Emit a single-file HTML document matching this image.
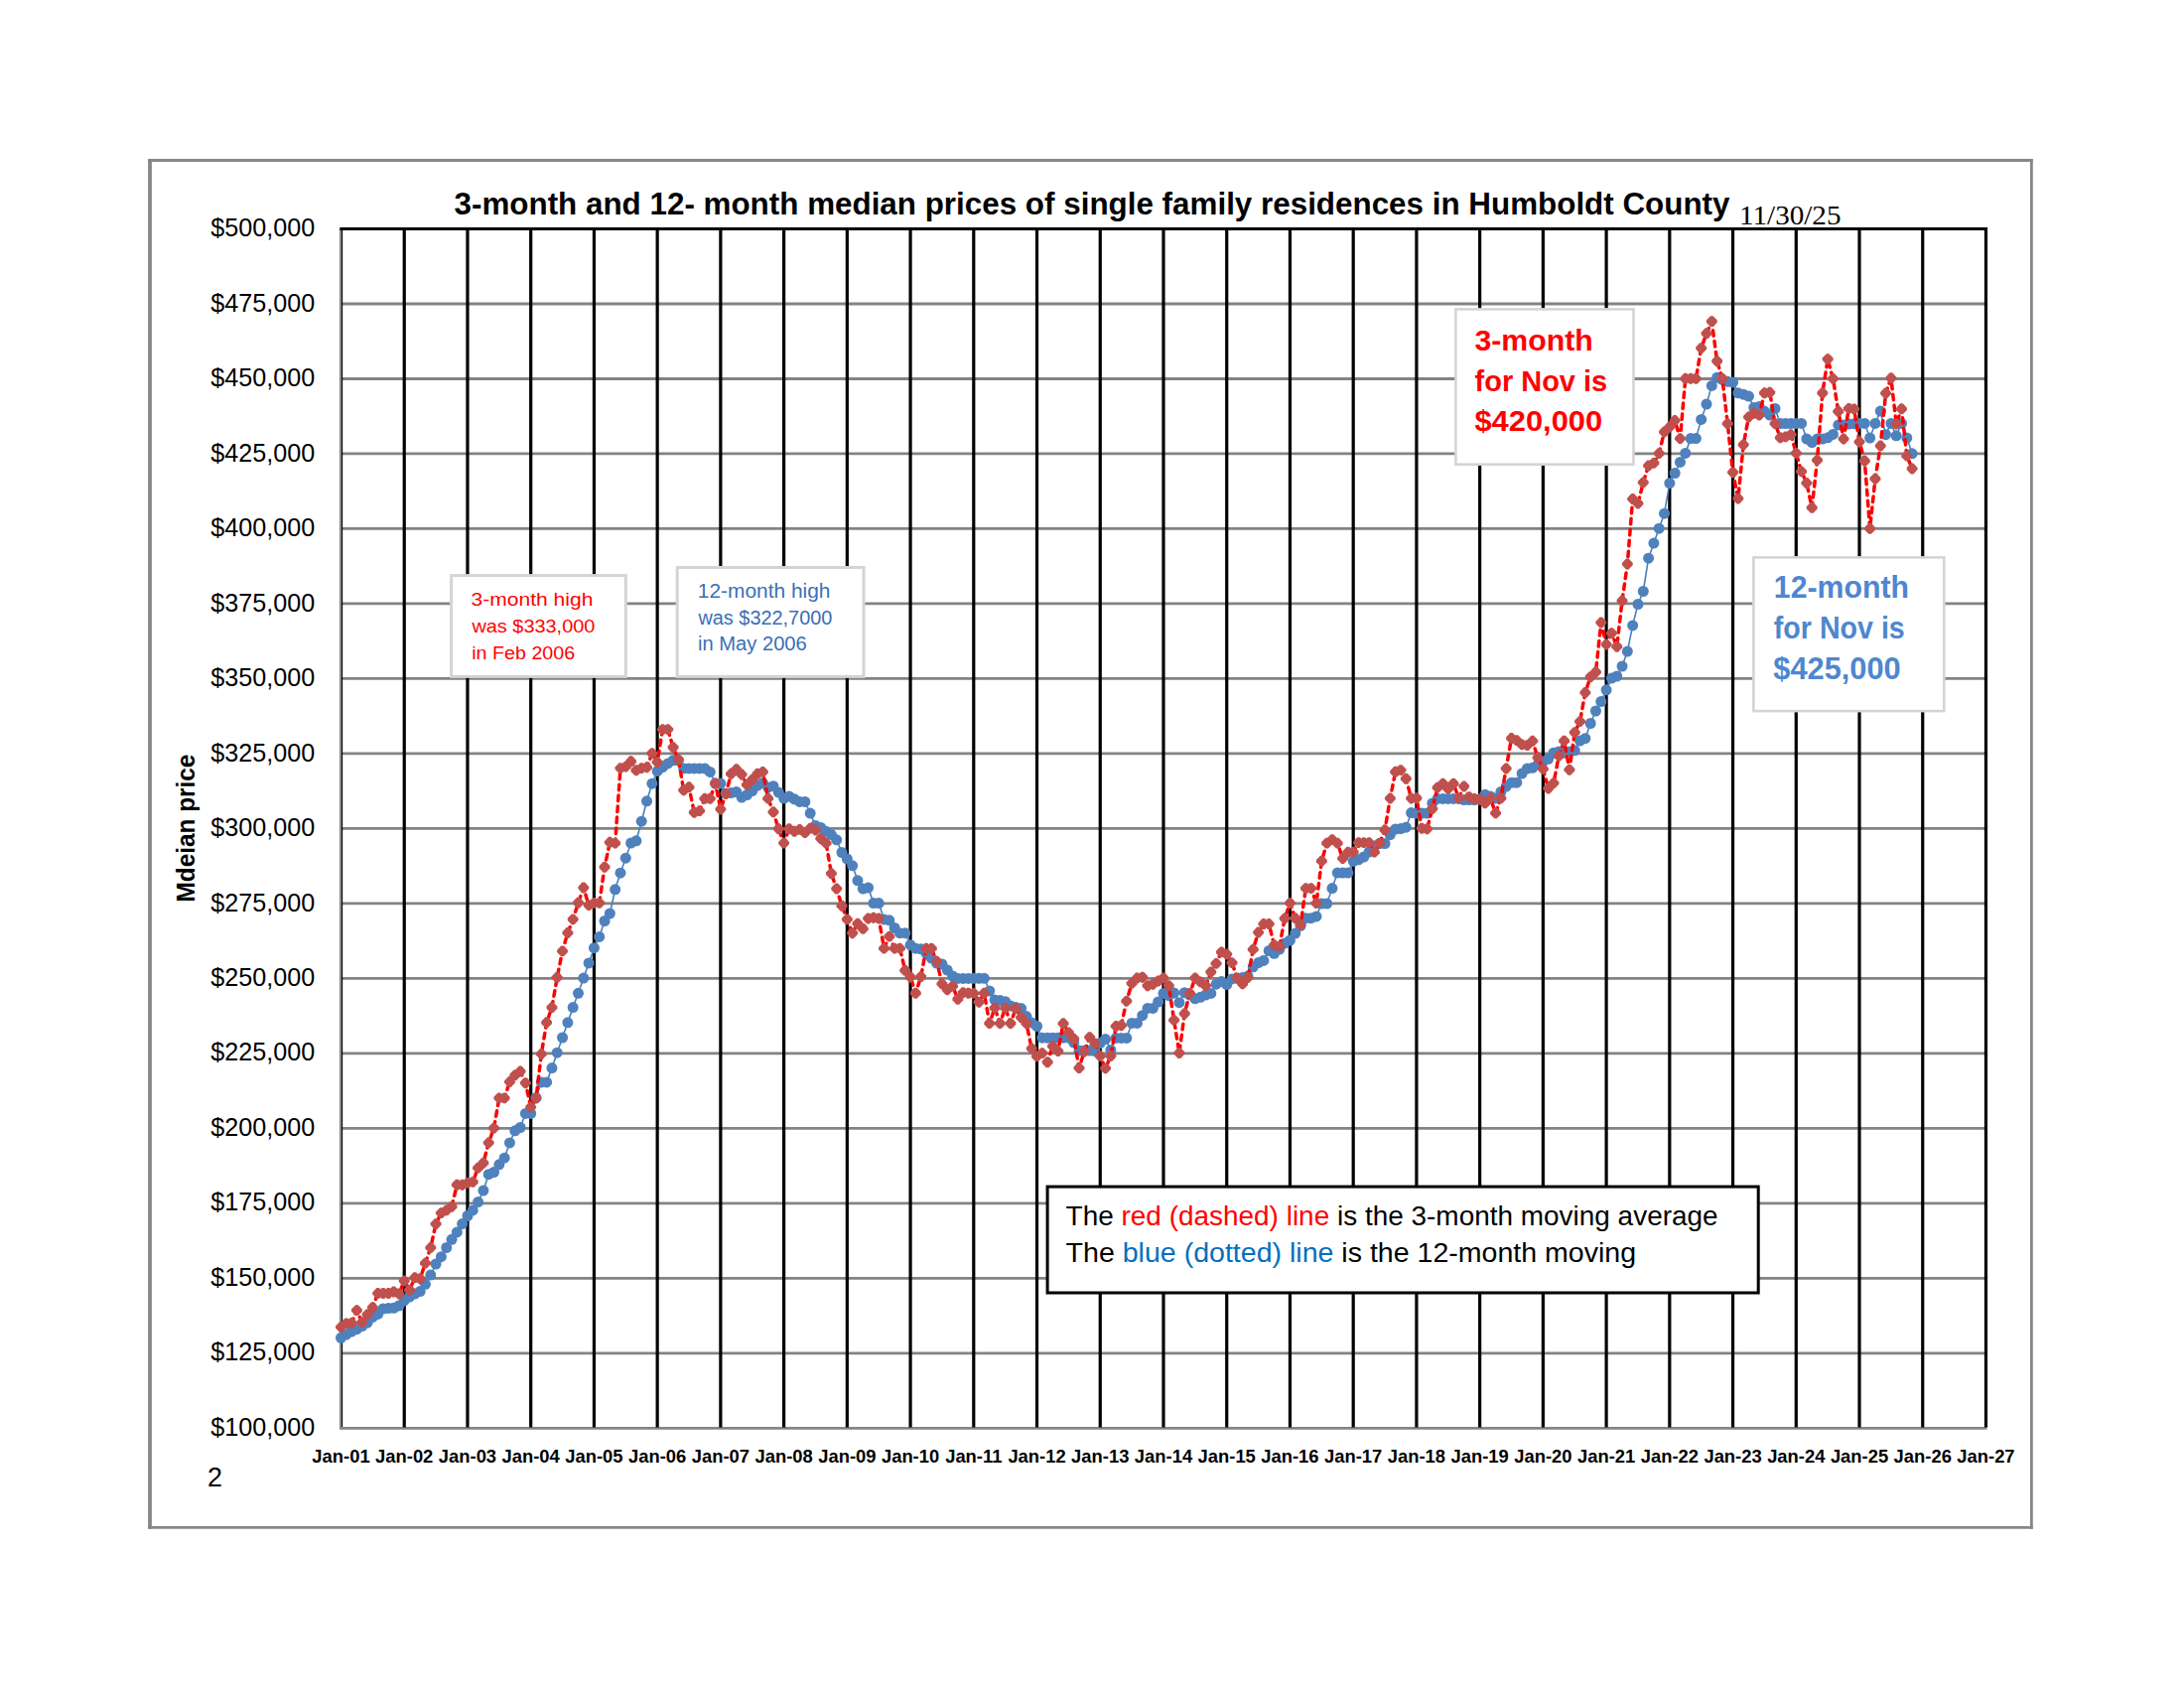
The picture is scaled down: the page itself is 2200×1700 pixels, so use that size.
<!DOCTYPE html>
<html><head><meta charset="utf-8"><title>Humboldt County median prices</title>
<style>
html,body{margin:0;padding:0;background:#fff;}
body{width:2200px;height:1700px;overflow:hidden;}
svg{display:block;}
.sans{font-family:"Liberation Sans",Arial,sans-serif;}
.serif{font-family:"Liberation Serif","Times New Roman",serif;}
</style></head><body>
<svg width="2200" height="1700" viewBox="0 0 2200 1700">
<rect x="0" y="0" width="2200" height="1700" fill="#fff"/>
<g stroke="#878787" fill="none"><path d="M151 160.1V1539.8" stroke-width="3.8"/><path d="M149.1 161.55H2047.8" stroke-width="2.9"/><path d="M2046.4 160.1V1539.8" stroke-width="2.8"/><path d="M149.1 1538.4H2047.8" stroke-width="2.8"/></g>
<path d="M343.5 305.99H2000.5 M343.5 381.48H2000.5 M343.5 456.97H2000.5 M343.5 532.46H2000.5 M343.5 607.95H2000.5 M343.5 683.44H2000.5 M343.5 758.93H2000.5 M343.5 834.42H2000.5 M343.5 909.91H2000.5 M343.5 985.40H2000.5 M343.5 1060.89H2000.5 M343.5 1136.38H2000.5 M343.5 1211.87H2000.5 M343.5 1287.36H2000.5 M343.5 1362.85H2000.5" stroke="#838383" stroke-width="2.8" fill="none"/>
<path d="M342.5 1438.34H2001.5" stroke="#858585" stroke-width="2.6" fill="none"/>
<path d="M344.5 229V1437" stroke="#000" stroke-width="1.3" fill="none"/>
<path d="M342.9 229V1439.5" stroke="#858585" stroke-width="1.9" fill="none"/>
<path d="M407.23 229V1437.5 M470.96 229V1437.5 M534.69 229V1437.5 M598.42 229V1437.5 M662.15 229V1437.5 M725.88 229V1437.5 M789.61 229V1437.5 M853.34 229V1437.5 M917.07 229V1437.5 M980.80 229V1437.5 M1044.53 229V1437.5 M1108.26 229V1437.5 M1171.99 229V1437.5 M1235.72 229V1437.5 M1299.45 229V1437.5 M1363.18 229V1437.5 M1426.91 229V1437.5 M1490.64 229V1437.5 M1554.37 229V1437.5 M1618.10 229V1437.5 M1681.83 229V1437.5 M1745.56 229V1437.5 M1809.29 229V1437.5 M1873.02 229V1437.5 M1936.75 229V1437.5 M2000.48 229V1437.5" stroke="#000" stroke-width="3.2" fill="none"/>
<path d="M342.5 230.50H2002" stroke="#000" stroke-width="3" fill="none"/>
<g class="sans" font-size="25" fill="#000">
<text x="212.3" y="238.1" textLength="105" lengthAdjust="spacingAndGlyphs">$500,000</text>
<text x="212.3" y="313.5" textLength="105" lengthAdjust="spacingAndGlyphs">$475,000</text>
<text x="212.3" y="389.0" textLength="105" lengthAdjust="spacingAndGlyphs">$450,000</text>
<text x="212.3" y="464.5" textLength="105" lengthAdjust="spacingAndGlyphs">$425,000</text>
<text x="212.3" y="540.0" textLength="105" lengthAdjust="spacingAndGlyphs">$400,000</text>
<text x="212.3" y="615.5" textLength="105" lengthAdjust="spacingAndGlyphs">$375,000</text>
<text x="212.3" y="691.0" textLength="105" lengthAdjust="spacingAndGlyphs">$350,000</text>
<text x="212.3" y="766.5" textLength="105" lengthAdjust="spacingAndGlyphs">$325,000</text>
<text x="212.3" y="842.0" textLength="105" lengthAdjust="spacingAndGlyphs">$300,000</text>
<text x="212.3" y="917.5" textLength="105" lengthAdjust="spacingAndGlyphs">$275,000</text>
<text x="212.3" y="992.9" textLength="105" lengthAdjust="spacingAndGlyphs">$250,000</text>
<text x="212.3" y="1068.4" textLength="105" lengthAdjust="spacingAndGlyphs">$225,000</text>
<text x="212.3" y="1143.9" textLength="105" lengthAdjust="spacingAndGlyphs">$200,000</text>
<text x="212.3" y="1219.4" textLength="105" lengthAdjust="spacingAndGlyphs">$175,000</text>
<text x="212.3" y="1294.9" textLength="105" lengthAdjust="spacingAndGlyphs">$150,000</text>
<text x="212.3" y="1370.4" textLength="105" lengthAdjust="spacingAndGlyphs">$125,000</text>
<text x="212.3" y="1445.9" textLength="105" lengthAdjust="spacingAndGlyphs">$100,000</text>
</g>
<g class="sans" font-size="18.4" font-weight="bold" fill="#000" text-anchor="middle">
<text x="343.50" y="1473">Jan-01</text>
<text x="407.23" y="1473">Jan-02</text>
<text x="470.96" y="1473">Jan-03</text>
<text x="534.69" y="1473">Jan-04</text>
<text x="598.42" y="1473">Jan-05</text>
<text x="662.15" y="1473">Jan-06</text>
<text x="725.88" y="1473">Jan-07</text>
<text x="789.61" y="1473">Jan-08</text>
<text x="853.34" y="1473">Jan-09</text>
<text x="917.07" y="1473">Jan-10</text>
<text x="980.80" y="1473">Jan-11</text>
<text x="1044.53" y="1473">Jan-12</text>
<text x="1108.26" y="1473">Jan-13</text>
<text x="1171.99" y="1473">Jan-14</text>
<text x="1235.72" y="1473">Jan-15</text>
<text x="1299.45" y="1473">Jan-16</text>
<text x="1363.18" y="1473">Jan-17</text>
<text x="1426.91" y="1473">Jan-18</text>
<text x="1490.64" y="1473">Jan-19</text>
<text x="1554.37" y="1473">Jan-20</text>
<text x="1618.10" y="1473">Jan-21</text>
<text x="1681.83" y="1473">Jan-22</text>
<text x="1745.56" y="1473">Jan-23</text>
<text x="1809.29" y="1473">Jan-24</text>
<text x="1873.02" y="1473">Jan-25</text>
<text x="1936.75" y="1473">Jan-26</text>
<text x="2000.48" y="1473">Jan-27</text>
</g>
<text class="sans" x="457.5" y="216" font-size="32" font-weight="bold" textLength="1285" lengthAdjust="spacingAndGlyphs">3-month and 12- month median prices of single family residences in Humboldt County</text>
<text class="serif" x="1752" y="225.8" font-size="26.5" textLength="102.5" lengthAdjust="spacingAndGlyphs">11/30/25</text>
<text class="sans" transform="translate(196,908.4) rotate(-90)" x="0" y="0" font-size="25.5" font-weight="bold" textLength="148.7" lengthAdjust="spacingAndGlyphs">Mdeian price</text>
<text class="sans" x="209" y="1497" font-size="28.5" textLength="15" lengthAdjust="spacingAndGlyphs">2</text>
<polyline points="343.50,1347.3 348.81,1344.0 354.12,1341.0 359.43,1338.7 364.74,1335.5 370.05,1332.2 375.37,1326.4 380.68,1323.4 385.99,1318.0 391.30,1317.5 396.61,1317.3 401.92,1315.0 407.23,1309.8 412.54,1306.0 417.85,1303.0 423.16,1300.6 428.47,1293.3 433.78,1284.1 439.09,1273.0 444.41,1265.7 449.72,1256.5 455.03,1248.3 460.34,1240.9 465.65,1232.6 470.96,1224.5 476.27,1218.9 481.58,1210.6 486.89,1199.1 492.20,1182.7 497.51,1180.5 502.82,1172.8 508.14,1166.2 513.45,1150.9 518.76,1138.8 524.07,1135.5 529.38,1121.4 534.69,1121.4 540.00,1105.5 545.31,1089.9 550.62,1089.9 555.93,1075.6 561.24,1060.2 566.55,1045.0 571.87,1029.8 577.18,1014.6 582.49,1000.3 587.80,985.1 593.11,969.9 598.42,954.7 603.73,943.4 609.04,927.5 614.35,920.0 619.66,895.8 624.97,879.2 630.28,864.2 635.60,849.1 640.91,846.8 646.22,827.2 651.53,806.8 656.84,789.2 662.15,776.6 667.46,772.7 672.77,768.9 678.08,765.8 683.39,765.9 688.70,773.9 694.01,773.9 699.33,773.9 704.64,773.9 709.95,773.9 715.26,777.4 720.57,789.0 725.88,789.1 731.19,798.9 736.50,798.5 741.81,797.6 747.12,803.1 752.43,800.5 757.74,796.6 763.06,791.0 768.37,788.4 773.68,793.0 778.99,791.7 784.30,798.0 789.61,804.1 794.92,802.1 800.23,804.8 805.54,807.4 810.85,807.4 816.16,819.1 821.47,831.5 826.79,833.4 832.10,837.3 837.41,840.6 842.72,845.8 848.03,858.5 853.34,865.0 858.65,871.8 863.96,886.8 869.27,895.0 874.58,894.1 879.89,909.6 885.21,909.6 890.52,925.9 895.83,926.8 901.14,934.5 906.45,939.7 911.76,939.7 917.07,951.7 922.38,955.2 927.69,955.8 933.00,960.0 938.31,965.0 943.62,970.0 948.93,971.0 954.25,977.0 959.56,983.0 964.87,985.4 970.18,985.4 975.49,985.4 980.80,985.3 986.11,985.3 991.42,985.3 996.73,998.0 1002.04,1007.1 1007.35,1007.6 1012.66,1008.7 1017.98,1013.0 1023.29,1014.6 1028.60,1015.6 1033.91,1023.6 1039.22,1030.0 1044.53,1033.5 1049.84,1045.2 1055.15,1045.2 1060.46,1045.2 1065.77,1045.2 1071.08,1045.2 1076.39,1045.2 1081.71,1050.0 1087.02,1058.0 1092.33,1058.0 1097.64,1058.0 1102.95,1058.5 1108.26,1050.4 1113.57,1046.6 1118.88,1057.4 1124.19,1045.4 1129.50,1045.4 1134.81,1045.4 1140.12,1030.4 1145.44,1030.4 1150.75,1022.7 1156.06,1015.4 1161.37,1015.4 1166.68,1009.0 1171.99,1000.4 1177.30,1002.7 1182.61,1000.0 1187.92,1009.7 1193.23,999.7 1198.54,1002.0 1203.86,1005.8 1209.17,1004.3 1214.48,1002.0 1219.79,1000.4 1225.10,991.2 1230.41,988.5 1235.72,991.6 1241.03,985.9 1246.34,985.2 1251.65,984.5 1256.96,983.1 1262.27,973.8 1267.59,969.6 1272.90,967.4 1278.21,957.5 1283.52,960.3 1288.83,956.1 1294.14,950.0 1299.45,947.0 1304.76,940.1 1310.07,932.4 1315.38,924.7 1320.69,924.7 1326.00,922.9 1331.32,910.0 1336.63,910.0 1341.94,894.6 1347.25,879.1 1352.56,879.1 1357.87,879.1 1363.18,867.3 1368.49,865.8 1373.80,863.0 1379.11,858.0 1384.42,852.0 1389.73,849.5 1395.04,849.5 1400.36,840.7 1405.67,835.0 1410.98,834.5 1416.29,833.2 1421.60,818.6 1426.91,819.0 1432.22,819.0 1437.53,819.0 1442.84,808.9 1448.15,804.4 1453.46,804.4 1458.77,804.4 1464.09,804.4 1469.40,804.4 1474.71,805.5 1480.02,805.5 1485.33,805.5 1490.64,805.0 1495.95,800.3 1501.26,802.0 1506.57,803.9 1511.88,797.5 1517.19,792.0 1522.50,788.2 1527.82,788.2 1533.13,779.0 1538.44,774.0 1543.75,773.3 1549.06,770.0 1554.37,767.0 1559.68,764.3 1564.99,758.2 1570.30,757.0 1575.61,758.2 1580.92,757.0 1586.23,755.8 1591.55,746.1 1596.86,743.7 1602.17,728.5 1607.48,716.0 1612.79,706.5 1618.10,694.8 1623.41,683.1 1628.72,681.0 1634.03,671.0 1639.34,656.1 1644.65,629.9 1649.96,608.5 1655.28,595.5 1660.59,562.2 1665.90,547.1 1671.21,532.2 1676.52,517.2 1681.83,486.6 1687.14,476.5 1692.45,465.4 1697.76,456.4 1703.07,441.6 1708.38,441.6 1713.69,422.4 1719.01,407.0 1724.32,388.4 1729.63,380.2 1734.94,382.4 1740.25,384.3 1745.56,385.0 1750.87,395.8 1756.18,397.2 1761.49,399.1 1766.80,410.5 1772.11,409.5 1777.42,414.3 1782.74,418.1 1788.05,411.4 1793.36,426.6 1798.67,426.6 1803.98,426.5 1809.29,426.4 1814.60,426.4 1819.91,442.0 1825.22,445.5 1830.53,442.0 1835.84,442.0 1841.15,440.8 1846.47,437.4 1851.78,428.1 1857.09,428.1 1862.40,427.0 1867.71,426.7 1873.02,426.4 1878.33,426.4 1883.64,441.1 1888.95,426.4 1894.26,414.1 1899.57,437.7 1904.88,426.4 1910.20,438.8 1915.51,426.4 1920.82,441.1 1926.13,456.8" fill="none" stroke="#4a7ebb" stroke-width="1.6" stroke-linejoin="round"/>
<g fill="#4f81bd">
<circle cx="343.50" cy="1347.3" r="5.5"/><circle cx="348.81" cy="1344.0" r="5.5"/><circle cx="354.12" cy="1341.0" r="5.5"/><circle cx="359.43" cy="1338.7" r="5.5"/><circle cx="364.74" cy="1335.5" r="5.5"/><circle cx="370.05" cy="1332.2" r="5.5"/><circle cx="375.37" cy="1326.4" r="5.5"/><circle cx="380.68" cy="1323.4" r="5.5"/><circle cx="385.99" cy="1318.0" r="5.5"/><circle cx="391.30" cy="1317.5" r="5.5"/><circle cx="396.61" cy="1317.3" r="5.5"/><circle cx="401.92" cy="1315.0" r="5.5"/><circle cx="407.23" cy="1309.8" r="5.5"/><circle cx="412.54" cy="1306.0" r="5.5"/><circle cx="417.85" cy="1303.0" r="5.5"/><circle cx="423.16" cy="1300.6" r="5.5"/><circle cx="428.47" cy="1293.3" r="5.5"/><circle cx="433.78" cy="1284.1" r="5.5"/><circle cx="439.09" cy="1273.0" r="5.5"/><circle cx="444.41" cy="1265.7" r="5.5"/><circle cx="449.72" cy="1256.5" r="5.5"/><circle cx="455.03" cy="1248.3" r="5.5"/><circle cx="460.34" cy="1240.9" r="5.5"/><circle cx="465.65" cy="1232.6" r="5.5"/><circle cx="470.96" cy="1224.5" r="5.5"/><circle cx="476.27" cy="1218.9" r="5.5"/><circle cx="481.58" cy="1210.6" r="5.5"/><circle cx="486.89" cy="1199.1" r="5.5"/><circle cx="492.20" cy="1182.7" r="5.5"/><circle cx="497.51" cy="1180.5" r="5.5"/><circle cx="502.82" cy="1172.8" r="5.5"/><circle cx="508.14" cy="1166.2" r="5.5"/><circle cx="513.45" cy="1150.9" r="5.5"/><circle cx="518.76" cy="1138.8" r="5.5"/><circle cx="524.07" cy="1135.5" r="5.5"/><circle cx="529.38" cy="1121.4" r="5.5"/><circle cx="534.69" cy="1121.4" r="5.5"/><circle cx="540.00" cy="1105.5" r="5.5"/><circle cx="545.31" cy="1089.9" r="5.5"/><circle cx="550.62" cy="1089.9" r="5.5"/><circle cx="555.93" cy="1075.6" r="5.5"/><circle cx="561.24" cy="1060.2" r="5.5"/><circle cx="566.55" cy="1045.0" r="5.5"/><circle cx="571.87" cy="1029.8" r="5.5"/><circle cx="577.18" cy="1014.6" r="5.5"/><circle cx="582.49" cy="1000.3" r="5.5"/><circle cx="587.80" cy="985.1" r="5.5"/><circle cx="593.11" cy="969.9" r="5.5"/><circle cx="598.42" cy="954.7" r="5.5"/><circle cx="603.73" cy="943.4" r="5.5"/><circle cx="609.04" cy="927.5" r="5.5"/><circle cx="614.35" cy="920.0" r="5.5"/><circle cx="619.66" cy="895.8" r="5.5"/><circle cx="624.97" cy="879.2" r="5.5"/><circle cx="630.28" cy="864.2" r="5.5"/><circle cx="635.60" cy="849.1" r="5.5"/><circle cx="640.91" cy="846.8" r="5.5"/><circle cx="646.22" cy="827.2" r="5.5"/><circle cx="651.53" cy="806.8" r="5.5"/><circle cx="656.84" cy="789.2" r="5.5"/><circle cx="662.15" cy="776.6" r="5.5"/><circle cx="667.46" cy="772.7" r="5.5"/><circle cx="672.77" cy="768.9" r="5.5"/><circle cx="678.08" cy="765.8" r="5.5"/><circle cx="683.39" cy="765.9" r="5.5"/><circle cx="688.70" cy="773.9" r="5.5"/><circle cx="694.01" cy="773.9" r="5.5"/><circle cx="699.33" cy="773.9" r="5.5"/><circle cx="704.64" cy="773.9" r="5.5"/><circle cx="709.95" cy="773.9" r="5.5"/><circle cx="715.26" cy="777.4" r="5.5"/><circle cx="720.57" cy="789.0" r="5.5"/><circle cx="725.88" cy="789.1" r="5.5"/><circle cx="731.19" cy="798.9" r="5.5"/><circle cx="736.50" cy="798.5" r="5.5"/><circle cx="741.81" cy="797.6" r="5.5"/><circle cx="747.12" cy="803.1" r="5.5"/><circle cx="752.43" cy="800.5" r="5.5"/><circle cx="757.74" cy="796.6" r="5.5"/><circle cx="763.06" cy="791.0" r="5.5"/><circle cx="768.37" cy="788.4" r="5.5"/><circle cx="773.68" cy="793.0" r="5.5"/><circle cx="778.99" cy="791.7" r="5.5"/><circle cx="784.30" cy="798.0" r="5.5"/><circle cx="789.61" cy="804.1" r="5.5"/><circle cx="794.92" cy="802.1" r="5.5"/><circle cx="800.23" cy="804.8" r="5.5"/><circle cx="805.54" cy="807.4" r="5.5"/><circle cx="810.85" cy="807.4" r="5.5"/><circle cx="816.16" cy="819.1" r="5.5"/><circle cx="821.47" cy="831.5" r="5.5"/><circle cx="826.79" cy="833.4" r="5.5"/><circle cx="832.10" cy="837.3" r="5.5"/><circle cx="837.41" cy="840.6" r="5.5"/><circle cx="842.72" cy="845.8" r="5.5"/><circle cx="848.03" cy="858.5" r="5.5"/><circle cx="853.34" cy="865.0" r="5.5"/><circle cx="858.65" cy="871.8" r="5.5"/><circle cx="863.96" cy="886.8" r="5.5"/><circle cx="869.27" cy="895.0" r="5.5"/><circle cx="874.58" cy="894.1" r="5.5"/><circle cx="879.89" cy="909.6" r="5.5"/><circle cx="885.21" cy="909.6" r="5.5"/><circle cx="890.52" cy="925.9" r="5.5"/><circle cx="895.83" cy="926.8" r="5.5"/><circle cx="901.14" cy="934.5" r="5.5"/><circle cx="906.45" cy="939.7" r="5.5"/><circle cx="911.76" cy="939.7" r="5.5"/><circle cx="917.07" cy="951.7" r="5.5"/><circle cx="922.38" cy="955.2" r="5.5"/><circle cx="927.69" cy="955.8" r="5.5"/><circle cx="933.00" cy="960.0" r="5.5"/><circle cx="938.31" cy="965.0" r="5.5"/><circle cx="943.62" cy="970.0" r="5.5"/><circle cx="948.93" cy="971.0" r="5.5"/><circle cx="954.25" cy="977.0" r="5.5"/><circle cx="959.56" cy="983.0" r="5.5"/><circle cx="964.87" cy="985.4" r="5.5"/><circle cx="970.18" cy="985.4" r="5.5"/><circle cx="975.49" cy="985.4" r="5.5"/><circle cx="980.80" cy="985.3" r="5.5"/><circle cx="986.11" cy="985.3" r="5.5"/><circle cx="991.42" cy="985.3" r="5.5"/><circle cx="996.73" cy="998.0" r="5.5"/><circle cx="1002.04" cy="1007.1" r="5.5"/><circle cx="1007.35" cy="1007.6" r="5.5"/><circle cx="1012.66" cy="1008.7" r="5.5"/><circle cx="1017.98" cy="1013.0" r="5.5"/><circle cx="1023.29" cy="1014.6" r="5.5"/><circle cx="1028.60" cy="1015.6" r="5.5"/><circle cx="1033.91" cy="1023.6" r="5.5"/><circle cx="1039.22" cy="1030.0" r="5.5"/><circle cx="1044.53" cy="1033.5" r="5.5"/><circle cx="1049.84" cy="1045.2" r="5.5"/><circle cx="1055.15" cy="1045.2" r="5.5"/><circle cx="1060.46" cy="1045.2" r="5.5"/><circle cx="1065.77" cy="1045.2" r="5.5"/><circle cx="1071.08" cy="1045.2" r="5.5"/><circle cx="1076.39" cy="1045.2" r="5.5"/><circle cx="1081.71" cy="1050.0" r="5.5"/><circle cx="1087.02" cy="1058.0" r="5.5"/><circle cx="1092.33" cy="1058.0" r="5.5"/><circle cx="1097.64" cy="1058.0" r="5.5"/><circle cx="1102.95" cy="1058.5" r="5.5"/><circle cx="1108.26" cy="1050.4" r="5.5"/><circle cx="1113.57" cy="1046.6" r="5.5"/><circle cx="1118.88" cy="1057.4" r="5.5"/><circle cx="1124.19" cy="1045.4" r="5.5"/><circle cx="1129.50" cy="1045.4" r="5.5"/><circle cx="1134.81" cy="1045.4" r="5.5"/><circle cx="1140.12" cy="1030.4" r="5.5"/><circle cx="1145.44" cy="1030.4" r="5.5"/><circle cx="1150.75" cy="1022.7" r="5.5"/><circle cx="1156.06" cy="1015.4" r="5.5"/><circle cx="1161.37" cy="1015.4" r="5.5"/><circle cx="1166.68" cy="1009.0" r="5.5"/><circle cx="1171.99" cy="1000.4" r="5.5"/><circle cx="1177.30" cy="1002.7" r="5.5"/><circle cx="1182.61" cy="1000.0" r="5.5"/><circle cx="1187.92" cy="1009.7" r="5.5"/><circle cx="1193.23" cy="999.7" r="5.5"/><circle cx="1198.54" cy="1002.0" r="5.5"/><circle cx="1203.86" cy="1005.8" r="5.5"/><circle cx="1209.17" cy="1004.3" r="5.5"/><circle cx="1214.48" cy="1002.0" r="5.5"/><circle cx="1219.79" cy="1000.4" r="5.5"/><circle cx="1225.10" cy="991.2" r="5.5"/><circle cx="1230.41" cy="988.5" r="5.5"/><circle cx="1235.72" cy="991.6" r="5.5"/><circle cx="1241.03" cy="985.9" r="5.5"/><circle cx="1246.34" cy="985.2" r="5.5"/><circle cx="1251.65" cy="984.5" r="5.5"/><circle cx="1256.96" cy="983.1" r="5.5"/><circle cx="1262.27" cy="973.8" r="5.5"/><circle cx="1267.59" cy="969.6" r="5.5"/><circle cx="1272.90" cy="967.4" r="5.5"/><circle cx="1278.21" cy="957.5" r="5.5"/><circle cx="1283.52" cy="960.3" r="5.5"/><circle cx="1288.83" cy="956.1" r="5.5"/><circle cx="1294.14" cy="950.0" r="5.5"/><circle cx="1299.45" cy="947.0" r="5.5"/><circle cx="1304.76" cy="940.1" r="5.5"/><circle cx="1310.07" cy="932.4" r="5.5"/><circle cx="1315.38" cy="924.7" r="5.5"/><circle cx="1320.69" cy="924.7" r="5.5"/><circle cx="1326.00" cy="922.9" r="5.5"/><circle cx="1331.32" cy="910.0" r="5.5"/><circle cx="1336.63" cy="910.0" r="5.5"/><circle cx="1341.94" cy="894.6" r="5.5"/><circle cx="1347.25" cy="879.1" r="5.5"/><circle cx="1352.56" cy="879.1" r="5.5"/><circle cx="1357.87" cy="879.1" r="5.5"/><circle cx="1363.18" cy="867.3" r="5.5"/><circle cx="1368.49" cy="865.8" r="5.5"/><circle cx="1373.80" cy="863.0" r="5.5"/><circle cx="1379.11" cy="858.0" r="5.5"/><circle cx="1384.42" cy="852.0" r="5.5"/><circle cx="1389.73" cy="849.5" r="5.5"/><circle cx="1395.04" cy="849.5" r="5.5"/><circle cx="1400.36" cy="840.7" r="5.5"/><circle cx="1405.67" cy="835.0" r="5.5"/><circle cx="1410.98" cy="834.5" r="5.5"/><circle cx="1416.29" cy="833.2" r="5.5"/><circle cx="1421.60" cy="818.6" r="5.5"/><circle cx="1426.91" cy="819.0" r="5.5"/><circle cx="1432.22" cy="819.0" r="5.5"/><circle cx="1437.53" cy="819.0" r="5.5"/><circle cx="1442.84" cy="808.9" r="5.5"/><circle cx="1448.15" cy="804.4" r="5.5"/><circle cx="1453.46" cy="804.4" r="5.5"/><circle cx="1458.77" cy="804.4" r="5.5"/><circle cx="1464.09" cy="804.4" r="5.5"/><circle cx="1469.40" cy="804.4" r="5.5"/><circle cx="1474.71" cy="805.5" r="5.5"/><circle cx="1480.02" cy="805.5" r="5.5"/><circle cx="1485.33" cy="805.5" r="5.5"/><circle cx="1490.64" cy="805.0" r="5.5"/><circle cx="1495.95" cy="800.3" r="5.5"/><circle cx="1501.26" cy="802.0" r="5.5"/><circle cx="1506.57" cy="803.9" r="5.5"/><circle cx="1511.88" cy="797.5" r="5.5"/><circle cx="1517.19" cy="792.0" r="5.5"/><circle cx="1522.50" cy="788.2" r="5.5"/><circle cx="1527.82" cy="788.2" r="5.5"/><circle cx="1533.13" cy="779.0" r="5.5"/><circle cx="1538.44" cy="774.0" r="5.5"/><circle cx="1543.75" cy="773.3" r="5.5"/><circle cx="1549.06" cy="770.0" r="5.5"/><circle cx="1554.37" cy="767.0" r="5.5"/><circle cx="1559.68" cy="764.3" r="5.5"/><circle cx="1564.99" cy="758.2" r="5.5"/><circle cx="1570.30" cy="757.0" r="5.5"/><circle cx="1575.61" cy="758.2" r="5.5"/><circle cx="1580.92" cy="757.0" r="5.5"/><circle cx="1586.23" cy="755.8" r="5.5"/><circle cx="1591.55" cy="746.1" r="5.5"/><circle cx="1596.86" cy="743.7" r="5.5"/><circle cx="1602.17" cy="728.5" r="5.5"/><circle cx="1607.48" cy="716.0" r="5.5"/><circle cx="1612.79" cy="706.5" r="5.5"/><circle cx="1618.10" cy="694.8" r="5.5"/><circle cx="1623.41" cy="683.1" r="5.5"/><circle cx="1628.72" cy="681.0" r="5.5"/><circle cx="1634.03" cy="671.0" r="5.5"/><circle cx="1639.34" cy="656.1" r="5.5"/><circle cx="1644.65" cy="629.9" r="5.5"/><circle cx="1649.96" cy="608.5" r="5.5"/><circle cx="1655.28" cy="595.5" r="5.5"/><circle cx="1660.59" cy="562.2" r="5.5"/><circle cx="1665.90" cy="547.1" r="5.5"/><circle cx="1671.21" cy="532.2" r="5.5"/><circle cx="1676.52" cy="517.2" r="5.5"/><circle cx="1681.83" cy="486.6" r="5.5"/><circle cx="1687.14" cy="476.5" r="5.5"/><circle cx="1692.45" cy="465.4" r="5.5"/><circle cx="1697.76" cy="456.4" r="5.5"/><circle cx="1703.07" cy="441.6" r="5.5"/><circle cx="1708.38" cy="441.6" r="5.5"/><circle cx="1713.69" cy="422.4" r="5.5"/><circle cx="1719.01" cy="407.0" r="5.5"/><circle cx="1724.32" cy="388.4" r="5.5"/><circle cx="1729.63" cy="380.2" r="5.5"/><circle cx="1734.94" cy="382.4" r="5.5"/><circle cx="1740.25" cy="384.3" r="5.5"/><circle cx="1745.56" cy="385.0" r="5.5"/><circle cx="1750.87" cy="395.8" r="5.5"/><circle cx="1756.18" cy="397.2" r="5.5"/><circle cx="1761.49" cy="399.1" r="5.5"/><circle cx="1766.80" cy="410.5" r="5.5"/><circle cx="1772.11" cy="409.5" r="5.5"/><circle cx="1777.42" cy="414.3" r="5.5"/><circle cx="1782.74" cy="418.1" r="5.5"/><circle cx="1788.05" cy="411.4" r="5.5"/><circle cx="1793.36" cy="426.6" r="5.5"/><circle cx="1798.67" cy="426.6" r="5.5"/><circle cx="1803.98" cy="426.5" r="5.5"/><circle cx="1809.29" cy="426.4" r="5.5"/><circle cx="1814.60" cy="426.4" r="5.5"/><circle cx="1819.91" cy="442.0" r="5.5"/><circle cx="1825.22" cy="445.5" r="5.5"/><circle cx="1830.53" cy="442.0" r="5.5"/><circle cx="1835.84" cy="442.0" r="5.5"/><circle cx="1841.15" cy="440.8" r="5.5"/><circle cx="1846.47" cy="437.4" r="5.5"/><circle cx="1851.78" cy="428.1" r="5.5"/><circle cx="1857.09" cy="428.1" r="5.5"/><circle cx="1862.40" cy="427.0" r="5.5"/><circle cx="1867.71" cy="426.7" r="5.5"/><circle cx="1873.02" cy="426.4" r="5.5"/><circle cx="1878.33" cy="426.4" r="5.5"/><circle cx="1883.64" cy="441.1" r="5.5"/><circle cx="1888.95" cy="426.4" r="5.5"/><circle cx="1894.26" cy="414.1" r="5.5"/><circle cx="1899.57" cy="437.7" r="5.5"/><circle cx="1904.88" cy="426.4" r="5.5"/><circle cx="1910.20" cy="438.8" r="5.5"/><circle cx="1915.51" cy="426.4" r="5.5"/><circle cx="1920.82" cy="441.1" r="5.5"/><circle cx="1926.13" cy="456.8" r="5.5"/>
</g>
<polyline points="343.50,1336.5 348.81,1332.9 354.12,1332.4 359.43,1319.6 364.74,1331.7 370.05,1323.9 375.37,1316.8 380.68,1302.5 385.99,1302.5 391.30,1302.5 396.61,1301.0 401.92,1303.0 407.23,1290.0 412.54,1299.2 417.85,1286.8 423.16,1287.7 428.47,1272.1 433.78,1256.5 439.09,1232.6 444.41,1221.6 449.72,1218.9 455.03,1215.2 460.34,1193.2 465.65,1193.2 470.96,1191.4 476.27,1190.4 481.58,1176.1 486.89,1171.2 492.20,1150.9 497.51,1136.1 502.82,1105.9 508.14,1105.9 513.45,1089.5 518.76,1082.9 524.07,1079.0 529.38,1090.7 534.69,1115.0 540.00,1106.0 545.31,1061.5 550.62,1029.8 555.93,1014.6 561.24,984.3 566.55,957.9 571.87,939.5 577.18,925.9 582.49,909.2 587.80,894.0 593.11,911.6 598.42,909.4 603.73,909.4 609.04,873.2 614.35,848.3 619.66,849.1 624.97,773.6 630.28,772.1 635.60,766.8 640.91,775.8 646.22,773.6 651.53,772.8 656.84,758.7 662.15,767.5 667.46,734.6 672.77,734.6 678.08,752.7 683.39,765.0 688.70,795.8 694.01,792.8 699.33,818.2 704.64,816.6 709.95,804.3 715.26,804.3 720.57,789.0 725.88,815.0 731.19,799.5 736.50,779.3 741.81,774.8 747.12,780.0 752.43,790.4 757.74,785.2 763.06,779.3 768.37,777.4 773.68,804.1 778.99,817.8 784.30,834.7 789.61,849.0 794.92,834.7 800.23,837.3 805.54,835.4 810.85,838.6 816.16,834.1 821.47,836.0 826.79,844.5 832.10,849.1 837.41,879.7 842.72,895.0 848.03,912.2 853.34,925.9 858.65,939.7 863.96,930.2 869.27,935.4 874.58,925.0 879.89,924.2 885.21,925.0 890.52,955.1 895.83,943.1 901.14,955.1 906.45,955.1 911.76,977.3 917.07,984.0 922.38,1000.2 927.69,983.6 933.00,955.2 938.31,955.2 943.62,968.2 948.93,990.8 954.25,996.7 959.56,993.1 964.87,1006.2 970.18,999.6 975.49,1000.2 980.80,1000.4 986.11,1009.2 991.42,1000.2 996.73,1030.6 1002.04,1015.1 1007.35,1030.6 1012.66,1015.1 1017.98,1030.6 1023.29,1015.6 1028.60,1024.7 1033.91,1030.6 1039.22,1056.0 1044.53,1063.8 1049.84,1060.6 1055.15,1069.7 1060.46,1053.7 1065.77,1058.5 1071.08,1030.8 1076.39,1039.9 1081.71,1046.2 1087.02,1075.6 1092.33,1059.0 1097.64,1044.6 1102.95,1051.0 1108.26,1063.6 1113.57,1075.9 1118.88,1063.5 1124.19,1033.5 1129.50,1032.7 1134.81,1008.1 1140.12,990.4 1145.44,985.0 1150.75,984.2 1156.06,992.7 1161.37,991.2 1166.68,988.0 1171.99,985.0 1177.30,992.7 1182.61,1027.4 1187.92,1060.5 1193.23,1020.8 1198.54,1000.4 1203.86,985.0 1209.17,988.9 1214.48,992.7 1219.79,978.9 1225.10,970.4 1230.41,958.9 1235.72,961.0 1241.03,969.6 1246.34,985.2 1251.65,990.9 1256.96,984.5 1262.27,956.1 1267.59,939.0 1272.90,930.5 1278.21,930.5 1283.52,951.8 1288.83,953.2 1294.14,925.0 1299.45,909.5 1304.76,924.7 1310.07,931.5 1315.38,894.6 1320.69,894.6 1326.00,909.6 1331.32,867.1 1336.63,849.1 1341.94,845.6 1347.25,849.1 1352.56,864.5 1357.87,858.3 1363.18,858.1 1368.49,848.6 1373.80,848.6 1379.11,848.6 1384.42,858.1 1389.73,849.1 1395.04,835.8 1400.36,804.0 1405.67,777.3 1410.98,775.6 1416.29,784.2 1421.60,804.0 1426.91,803.8 1432.22,834.2 1437.53,834.8 1442.84,814.5 1448.15,793.1 1453.46,789.2 1458.77,794.3 1464.09,789.2 1469.40,803.8 1474.71,792.0 1480.02,802.7 1485.33,804.5 1490.64,805.0 1495.95,808.8 1501.26,803.9 1506.57,818.8 1511.88,803.9 1517.19,774.0 1522.50,743.5 1527.82,745.6 1533.13,749.9 1538.44,750.6 1543.75,746.3 1549.06,763.0 1554.37,774.3 1559.68,794.0 1564.99,788.6 1570.30,761.3 1575.61,746.1 1580.92,775.2 1586.23,737.6 1591.55,726.6 1596.86,697.5 1602.17,681.7 1607.48,676.8 1612.79,627.0 1618.10,649.0 1623.41,637.7 1628.72,651.2 1634.03,605.0 1639.34,568.0 1644.65,502.5 1649.96,507.0 1655.28,485.9 1660.59,469.0 1665.90,466.4 1671.21,456.6 1676.52,435.0 1681.83,430.0 1687.14,423.5 1692.45,441.6 1697.76,381.3 1703.07,381.3 1708.38,381.3 1713.69,350.6 1719.01,335.8 1724.32,323.7 1729.63,363.7 1734.94,381.3 1740.25,426.7 1745.56,475.7 1750.87,502.0 1756.18,447.9 1761.49,420.0 1766.80,416.2 1772.11,418.1 1777.42,395.8 1782.74,395.3 1788.05,426.6 1793.36,440.8 1798.67,439.9 1803.98,437.7 1809.29,456.4 1814.60,474.9 1819.91,486.5 1825.22,511.3 1830.53,463.4 1835.84,395.8 1841.15,361.7 1846.47,381.4 1851.78,414.3 1857.09,442.0 1862.40,411.4 1867.71,411.9 1873.02,445.0 1878.33,464.2 1883.64,532.3 1888.95,482.2 1894.26,449.0 1899.57,396.0 1904.88,380.8 1910.20,427.0 1915.51,411.8 1920.82,459.1 1926.13,472.0" fill="none" stroke="#ff0000" stroke-width="3.5" stroke-dasharray="5.5 5.5" stroke-linecap="round" stroke-linejoin="round"/>
<g fill="#c0504d">
<path d="M342.20 1331.05H344.80L348.95 1335.40V1337.60L344.80 1341.95H342.20L338.05 1337.60V1335.40Z"/><path d="M347.51 1327.45H350.11L354.26 1331.80V1334.00L350.11 1338.35H347.51L343.36 1334.00V1331.80Z"/><path d="M352.82 1326.95H355.42L359.57 1331.30V1333.50L355.42 1337.85H352.82L348.67 1333.50V1331.30Z"/><path d="M358.13 1314.15H360.73L364.88 1318.50V1320.70L360.73 1325.05H358.13L353.98 1320.70V1318.50Z"/><path d="M363.44 1326.25H366.04L370.19 1330.60V1332.80L366.04 1337.15H363.44L359.29 1332.80V1330.60Z"/><path d="M368.75 1318.45H371.35L375.50 1322.80V1325.00L371.35 1329.35H368.75L364.60 1325.00V1322.80Z"/><path d="M374.06 1311.35H376.67L380.81 1315.70V1317.90L376.67 1322.25H374.06L369.92 1317.90V1315.70Z"/><path d="M379.38 1297.05H381.98L386.13 1301.40V1303.60L381.98 1307.95H379.38L375.23 1303.60V1301.40Z"/><path d="M384.69 1297.05H387.29L391.44 1301.40V1303.60L387.29 1307.95H384.69L380.54 1303.60V1301.40Z"/><path d="M390.00 1297.05H392.60L396.75 1301.40V1303.60L392.60 1307.95H390.00L385.85 1303.60V1301.40Z"/><path d="M395.31 1295.55H397.91L402.06 1299.90V1302.10L397.91 1306.45H395.31L391.16 1302.10V1299.90Z"/><path d="M400.62 1297.55H403.22L407.37 1301.90V1304.10L403.22 1308.45H400.62L396.47 1304.10V1301.90Z"/><path d="M405.93 1284.55H408.53L412.68 1288.90V1291.10L408.53 1295.45H405.93L401.78 1291.10V1288.90Z"/><path d="M411.24 1293.75H413.84L417.99 1298.10V1300.30L413.84 1304.65H411.24L407.09 1300.30V1298.10Z"/><path d="M416.55 1281.35H419.15L423.30 1285.70V1287.90L419.15 1292.25H416.55L412.40 1287.90V1285.70Z"/><path d="M421.86 1282.25H424.46L428.61 1286.60V1288.80L424.46 1293.15H421.86L417.71 1288.80V1286.60Z"/><path d="M427.17 1266.65H429.77L433.92 1271.00V1273.20L429.77 1277.55H427.17L423.02 1273.20V1271.00Z"/><path d="M432.48 1251.05H435.08L439.23 1255.40V1257.60L435.08 1261.95H432.48L428.33 1257.60V1255.40Z"/><path d="M437.79 1227.15H440.39L444.54 1231.50V1233.70L440.39 1238.05H437.79L433.64 1233.70V1231.50Z"/><path d="M443.11 1216.15H445.71L449.86 1220.50V1222.70L445.71 1227.05H443.11L438.96 1222.70V1220.50Z"/><path d="M448.42 1213.45H451.02L455.17 1217.80V1220.00L451.02 1224.35H448.42L444.27 1220.00V1217.80Z"/><path d="M453.73 1209.75H456.33L460.48 1214.10V1216.30L456.33 1220.65H453.73L449.58 1216.30V1214.10Z"/><path d="M459.04 1187.75H461.64L465.79 1192.10V1194.30L461.64 1198.65H459.04L454.89 1194.30V1192.10Z"/><path d="M464.35 1187.75H466.95L471.10 1192.10V1194.30L466.95 1198.65H464.35L460.20 1194.30V1192.10Z"/><path d="M469.66 1185.95H472.26L476.41 1190.30V1192.50L472.26 1196.85H469.66L465.51 1192.50V1190.30Z"/><path d="M474.97 1184.95H477.57L481.72 1189.30V1191.50L477.57 1195.85H474.97L470.82 1191.50V1189.30Z"/><path d="M480.28 1170.65H482.88L487.03 1175.00V1177.20L482.88 1181.55H480.28L476.13 1177.20V1175.00Z"/><path d="M485.59 1165.75H488.19L492.34 1170.10V1172.30L488.19 1176.65H485.59L481.44 1172.30V1170.10Z"/><path d="M490.90 1145.45H493.50L497.65 1149.80V1152.00L493.50 1156.35H490.90L486.75 1152.00V1149.80Z"/><path d="M496.21 1130.65H498.81L502.96 1135.00V1137.20L498.81 1141.55H496.21L492.06 1137.20V1135.00Z"/><path d="M501.52 1100.45H504.12L508.27 1104.80V1107.00L504.12 1111.35H501.52L497.38 1107.00V1104.80Z"/><path d="M506.84 1100.45H509.44L513.59 1104.80V1107.00L509.44 1111.35H506.84L502.69 1107.00V1104.80Z"/><path d="M512.15 1084.05H514.75L518.90 1088.40V1090.60L514.75 1094.95H512.15L508.00 1090.60V1088.40Z"/><path d="M517.46 1077.45H520.06L524.21 1081.80V1084.00L520.06 1088.35H517.46L513.31 1084.00V1081.80Z"/><path d="M522.77 1073.55H525.37L529.52 1077.90V1080.10L525.37 1084.45H522.77L518.62 1080.10V1077.90Z"/><path d="M528.08 1085.25H530.68L534.83 1089.60V1091.80L530.68 1096.15H528.08L523.93 1091.80V1089.60Z"/><path d="M533.39 1109.55H535.99L540.14 1113.90V1116.10L535.99 1120.45H533.39L529.24 1116.10V1113.90Z"/><path d="M538.70 1100.55H541.30L545.45 1104.90V1107.10L541.30 1111.45H538.70L534.55 1107.10V1104.90Z"/><path d="M544.01 1056.05H546.61L550.76 1060.40V1062.60L546.61 1066.95H544.01L539.86 1062.60V1060.40Z"/><path d="M549.32 1024.35H551.92L556.07 1028.70V1030.90L551.92 1035.25H549.32L545.17 1030.90V1028.70Z"/><path d="M554.63 1009.15H557.23L561.38 1013.50V1015.70L557.23 1020.05H554.63L550.48 1015.70V1013.50Z"/><path d="M559.94 978.85H562.54L566.69 983.20V985.40L562.54 989.75H559.94L555.79 985.40V983.20Z"/><path d="M565.25 952.45H567.85L572.00 956.80V959.00L567.85 963.35H565.25L561.10 959.00V956.80Z"/><path d="M570.57 934.05H573.17L577.32 938.40V940.60L573.17 944.95H570.57L566.42 940.60V938.40Z"/><path d="M575.88 920.45H578.48L582.63 924.80V927.00L578.48 931.35H575.88L571.73 927.00V924.80Z"/><path d="M581.19 903.75H583.79L587.94 908.10V910.30L583.79 914.65H581.19L577.04 910.30V908.10Z"/><path d="M586.50 888.55H589.10L593.25 892.90V895.10L589.10 899.45H586.50L582.35 895.10V892.90Z"/><path d="M591.81 906.15H594.41L598.56 910.50V912.70L594.41 917.05H591.81L587.66 912.70V910.50Z"/><path d="M597.12 903.95H599.72L603.87 908.30V910.50L599.72 914.85H597.12L592.97 910.50V908.30Z"/><path d="M602.43 903.95H605.03L609.18 908.30V910.50L605.03 914.85H602.43L598.28 910.50V908.30Z"/><path d="M607.74 867.75H610.34L614.49 872.10V874.30L610.34 878.65H607.74L603.59 874.30V872.10Z"/><path d="M613.05 842.85H615.65L619.80 847.20V849.40L615.65 853.75H613.05L608.90 849.40V847.20Z"/><path d="M618.36 843.65H620.96L625.11 848.00V850.20L620.96 854.55H618.36L614.21 850.20V848.00Z"/><path d="M623.67 768.15H626.27L630.42 772.50V774.70L626.27 779.05H623.67L619.52 774.70V772.50Z"/><path d="M628.99 766.65H631.58L635.74 771.00V773.20L631.58 777.55H628.99L624.83 773.20V771.00Z"/><path d="M634.30 761.35H636.90L641.05 765.70V767.90L636.90 772.25H634.30L630.15 767.90V765.70Z"/><path d="M639.61 770.35H642.21L646.36 774.70V776.90L642.21 781.25H639.61L635.46 776.90V774.70Z"/><path d="M644.92 768.15H647.52L651.67 772.50V774.70L647.52 779.05H644.92L640.77 774.70V772.50Z"/><path d="M650.23 767.35H652.83L656.98 771.70V773.90L652.83 778.25H650.23L646.08 773.90V771.70Z"/><path d="M655.54 753.25H658.14L662.29 757.60V759.80L658.14 764.15H655.54L651.39 759.80V757.60Z"/><path d="M660.85 762.05H663.45L667.60 766.40V768.60L663.45 772.95H660.85L656.70 768.60V766.40Z"/><path d="M666.16 729.15H668.76L672.91 733.50V735.70L668.76 740.05H666.16L662.01 735.70V733.50Z"/><path d="M671.47 729.15H674.07L678.22 733.50V735.70L674.07 740.05H671.47L667.32 735.70V733.50Z"/><path d="M676.78 747.25H679.38L683.53 751.60V753.80L679.38 758.15H676.78L672.63 753.80V751.60Z"/><path d="M682.09 759.55H684.69L688.84 763.90V766.10L684.69 770.45H682.09L677.94 766.10V763.90Z"/><path d="M687.40 790.35H690.00L694.15 794.70V796.90L690.00 801.25H687.40L683.25 796.90V794.70Z"/><path d="M692.71 787.35H695.31L699.46 791.70V793.90L695.31 798.25H692.71L688.56 793.90V791.70Z"/><path d="M698.03 812.75H700.63L704.78 817.10V819.30L700.63 823.65H698.03L693.88 819.30V817.10Z"/><path d="M703.34 811.15H705.94L710.09 815.50V817.70L705.94 822.05H703.34L699.19 817.70V815.50Z"/><path d="M708.65 798.85H711.25L715.40 803.20V805.40L711.25 809.75H708.65L704.50 805.40V803.20Z"/><path d="M713.96 798.85H716.56L720.71 803.20V805.40L716.56 809.75H713.96L709.81 805.40V803.20Z"/><path d="M719.27 783.55H721.87L726.02 787.90V790.10L721.87 794.45H719.27L715.12 790.10V787.90Z"/><path d="M724.58 809.55H727.18L731.33 813.90V816.10L727.18 820.45H724.58L720.43 816.10V813.90Z"/><path d="M729.89 794.05H732.49L736.64 798.40V800.60L732.49 804.95H729.89L725.74 800.60V798.40Z"/><path d="M735.20 773.85H737.80L741.95 778.20V780.40L737.80 784.75H735.20L731.05 780.40V778.20Z"/><path d="M740.51 769.35H743.11L747.26 773.70V775.90L743.11 780.25H740.51L736.36 775.90V773.70Z"/><path d="M745.82 774.55H748.42L752.57 778.90V781.10L748.42 785.45H745.82L741.67 781.10V778.90Z"/><path d="M751.13 784.95H753.73L757.88 789.30V791.50L753.73 795.85H751.13L746.98 791.50V789.30Z"/><path d="M756.44 779.75H759.04L763.19 784.10V786.30L759.04 790.65H756.44L752.29 786.30V784.10Z"/><path d="M761.76 773.85H764.36L768.51 778.20V780.40L764.36 784.75H761.76L757.61 780.40V778.20Z"/><path d="M767.07 771.95H769.67L773.82 776.30V778.50L769.67 782.85H767.07L762.92 778.50V776.30Z"/><path d="M772.38 798.65H774.98L779.13 803.00V805.20L774.98 809.55H772.38L768.23 805.20V803.00Z"/><path d="M777.69 812.35H780.29L784.44 816.70V818.90L780.29 823.25H777.69L773.54 818.90V816.70Z"/><path d="M783.00 829.25H785.60L789.75 833.60V835.80L785.60 840.15H783.00L778.85 835.80V833.60Z"/><path d="M788.31 843.55H790.91L795.06 847.90V850.10L790.91 854.45H788.31L784.16 850.10V847.90Z"/><path d="M793.62 829.25H796.22L800.37 833.60V835.80L796.22 840.15H793.62L789.47 835.80V833.60Z"/><path d="M798.93 831.85H801.53L805.68 836.20V838.40L801.53 842.75H798.93L794.78 838.40V836.20Z"/><path d="M804.24 829.95H806.84L810.99 834.30V836.50L806.84 840.85H804.24L800.09 836.50V834.30Z"/><path d="M809.55 833.15H812.15L816.30 837.50V839.70L812.15 844.05H809.55L805.40 839.70V837.50Z"/><path d="M814.86 828.65H817.46L821.61 833.00V835.20L817.46 839.55H814.86L810.71 835.20V833.00Z"/><path d="M820.17 830.55H822.77L826.92 834.90V837.10L822.77 841.45H820.17L816.02 837.10V834.90Z"/><path d="M825.49 839.05H828.09L832.24 843.40V845.60L828.09 849.95H825.49L821.34 845.60V843.40Z"/><path d="M830.80 843.65H833.40L837.55 848.00V850.20L833.40 854.55H830.80L826.65 850.20V848.00Z"/><path d="M836.11 874.25H838.71L842.86 878.60V880.80L838.71 885.15H836.11L831.96 880.80V878.60Z"/><path d="M841.42 889.55H844.02L848.17 893.90V896.10L844.02 900.45H841.42L837.27 896.10V893.90Z"/><path d="M846.73 906.75H849.33L853.48 911.10V913.30L849.33 917.65H846.73L842.58 913.30V911.10Z"/><path d="M852.04 920.45H854.64L858.79 924.80V927.00L854.64 931.35H852.04L847.89 927.00V924.80Z"/><path d="M857.35 934.25H859.95L864.10 938.60V940.80L859.95 945.15H857.35L853.20 940.80V938.60Z"/><path d="M862.66 924.75H865.26L869.41 929.10V931.30L865.26 935.65H862.66L858.51 931.30V929.10Z"/><path d="M867.97 929.95H870.57L874.72 934.30V936.50L870.57 940.85H867.97L863.82 936.50V934.30Z"/><path d="M873.28 919.55H875.88L880.03 923.90V926.10L875.88 930.45H873.28L869.13 926.10V923.90Z"/><path d="M878.59 918.75H881.19L885.34 923.10V925.30L881.19 929.65H878.59L874.44 925.30V923.10Z"/><path d="M883.91 919.55H886.50L890.66 923.90V926.10L886.50 930.45H883.91L879.75 926.10V923.90Z"/><path d="M889.22 949.65H891.82L895.97 954.00V956.20L891.82 960.55H889.22L885.07 956.20V954.00Z"/><path d="M894.53 937.65H897.13L901.28 942.00V944.20L897.13 948.55H894.53L890.38 944.20V942.00Z"/><path d="M899.84 949.65H902.44L906.59 954.00V956.20L902.44 960.55H899.84L895.69 956.20V954.00Z"/><path d="M905.15 949.65H907.75L911.90 954.00V956.20L907.75 960.55H905.15L901.00 956.20V954.00Z"/><path d="M910.46 971.85H913.06L917.21 976.20V978.40L913.06 982.75H910.46L906.31 978.40V976.20Z"/><path d="M915.77 978.55H918.37L922.52 982.90V985.10L918.37 989.45H915.77L911.62 985.10V982.90Z"/><path d="M921.08 994.75H923.68L927.83 999.10V1001.30L923.68 1005.65H921.08L916.93 1001.30V999.10Z"/><path d="M926.39 978.15H928.99L933.14 982.50V984.70L928.99 989.05H926.39L922.24 984.70V982.50Z"/><path d="M931.70 949.75H934.30L938.45 954.10V956.30L934.30 960.65H931.70L927.55 956.30V954.10Z"/><path d="M937.01 949.75H939.61L943.76 954.10V956.30L939.61 960.65H937.01L932.86 956.30V954.10Z"/><path d="M942.32 962.75H944.92L949.07 967.10V969.30L944.92 973.65H942.32L938.17 969.30V967.10Z"/><path d="M947.63 985.35H950.23L954.38 989.70V991.90L950.23 996.25H947.63L943.48 991.90V989.70Z"/><path d="M952.95 991.25H955.55L959.70 995.60V997.80L955.55 1002.15H952.95L948.80 997.80V995.60Z"/><path d="M958.26 987.65H960.86L965.01 992.00V994.20L960.86 998.55H958.26L954.11 994.20V992.00Z"/><path d="M963.57 1000.75H966.17L970.32 1005.10V1007.30L966.17 1011.65H963.57L959.42 1007.30V1005.10Z"/><path d="M968.88 994.15H971.48L975.63 998.50V1000.70L971.48 1005.05H968.88L964.73 1000.70V998.50Z"/><path d="M974.19 994.75H976.79L980.94 999.10V1001.30L976.79 1005.65H974.19L970.04 1001.30V999.10Z"/><path d="M979.50 994.95H982.10L986.25 999.30V1001.50L982.10 1005.85H979.50L975.35 1001.50V999.30Z"/><path d="M984.81 1003.75H987.41L991.56 1008.10V1010.30L987.41 1014.65H984.81L980.66 1010.30V1008.10Z"/><path d="M990.12 994.75H992.72L996.87 999.10V1001.30L992.72 1005.65H990.12L985.97 1001.30V999.10Z"/><path d="M995.43 1025.15H998.03L1002.18 1029.50V1031.70L998.03 1036.05H995.43L991.28 1031.70V1029.50Z"/><path d="M1000.74 1009.65H1003.34L1007.49 1014.00V1016.20L1003.34 1020.55H1000.74L996.59 1016.20V1014.00Z"/><path d="M1006.05 1025.15H1008.65L1012.80 1029.50V1031.70L1008.65 1036.05H1006.05L1001.90 1031.70V1029.50Z"/><path d="M1011.37 1009.65H1013.96L1018.12 1014.00V1016.20L1013.96 1020.55H1011.37L1007.21 1016.20V1014.00Z"/><path d="M1016.68 1025.15H1019.28L1023.43 1029.50V1031.70L1019.28 1036.05H1016.68L1012.53 1031.70V1029.50Z"/><path d="M1021.99 1010.15H1024.59L1028.74 1014.50V1016.70L1024.59 1021.05H1021.99L1017.84 1016.70V1014.50Z"/><path d="M1027.30 1019.25H1029.90L1034.05 1023.60V1025.80L1029.90 1030.15H1027.30L1023.15 1025.80V1023.60Z"/><path d="M1032.61 1025.15H1035.21L1039.36 1029.50V1031.70L1035.21 1036.05H1032.61L1028.46 1031.70V1029.50Z"/><path d="M1037.92 1050.55H1040.52L1044.67 1054.90V1057.10L1040.52 1061.45H1037.92L1033.77 1057.10V1054.90Z"/><path d="M1043.23 1058.35H1045.83L1049.98 1062.70V1064.90L1045.83 1069.25H1043.23L1039.08 1064.90V1062.70Z"/><path d="M1048.54 1055.15H1051.14L1055.29 1059.50V1061.70L1051.14 1066.05H1048.54L1044.39 1061.70V1059.50Z"/><path d="M1053.85 1064.25H1056.45L1060.60 1068.60V1070.80L1056.45 1075.15H1053.85L1049.70 1070.80V1068.60Z"/><path d="M1059.16 1048.25H1061.76L1065.91 1052.60V1054.80L1061.76 1059.15H1059.16L1055.01 1054.80V1052.60Z"/><path d="M1064.47 1053.05H1067.07L1071.22 1057.40V1059.60L1067.07 1063.95H1064.47L1060.32 1059.60V1057.40Z"/><path d="M1069.78 1025.35H1072.38L1076.53 1029.70V1031.90L1072.38 1036.25H1069.78L1065.63 1031.90V1029.70Z"/><path d="M1075.10 1034.45H1077.69L1081.85 1038.80V1041.00L1077.69 1045.35H1075.10L1070.94 1041.00V1038.80Z"/><path d="M1080.41 1040.75H1083.01L1087.16 1045.10V1047.30L1083.01 1051.65H1080.41L1076.26 1047.30V1045.10Z"/><path d="M1085.72 1070.15H1088.32L1092.47 1074.50V1076.70L1088.32 1081.05H1085.72L1081.57 1076.70V1074.50Z"/><path d="M1091.03 1053.55H1093.63L1097.78 1057.90V1060.10L1093.63 1064.45H1091.03L1086.88 1060.10V1057.90Z"/><path d="M1096.34 1039.15H1098.94L1103.09 1043.50V1045.70L1098.94 1050.05H1096.34L1092.19 1045.70V1043.50Z"/><path d="M1101.65 1045.55H1104.25L1108.40 1049.90V1052.10L1104.25 1056.45H1101.65L1097.50 1052.10V1049.90Z"/><path d="M1106.96 1058.15H1109.56L1113.71 1062.50V1064.70L1109.56 1069.05H1106.96L1102.81 1064.70V1062.50Z"/><path d="M1112.27 1070.45H1114.87L1119.02 1074.80V1077.00L1114.87 1081.35H1112.27L1108.12 1077.00V1074.80Z"/><path d="M1117.58 1058.05H1120.18L1124.33 1062.40V1064.60L1120.18 1068.95H1117.58L1113.43 1064.60V1062.40Z"/><path d="M1122.89 1028.05H1125.49L1129.64 1032.40V1034.60L1125.49 1038.95H1122.89L1118.74 1034.60V1032.40Z"/><path d="M1128.20 1027.25H1130.80L1134.95 1031.60V1033.80L1130.80 1038.15H1128.20L1124.05 1033.80V1031.60Z"/><path d="M1133.51 1002.65H1136.11L1140.26 1007.00V1009.20L1136.11 1013.55H1133.51L1129.36 1009.20V1007.00Z"/><path d="M1138.83 984.95H1141.42L1145.58 989.30V991.50L1141.42 995.85H1138.83L1134.67 991.50V989.30Z"/><path d="M1144.14 979.55H1146.74L1150.89 983.90V986.10L1146.74 990.45H1144.14L1139.99 986.10V983.90Z"/><path d="M1149.45 978.75H1152.05L1156.20 983.10V985.30L1152.05 989.65H1149.45L1145.30 985.30V983.10Z"/><path d="M1154.76 987.25H1157.36L1161.51 991.60V993.80L1157.36 998.15H1154.76L1150.61 993.80V991.60Z"/><path d="M1160.07 985.75H1162.67L1166.82 990.10V992.30L1162.67 996.65H1160.07L1155.92 992.30V990.10Z"/><path d="M1165.38 982.55H1167.98L1172.13 986.90V989.10L1167.98 993.45H1165.38L1161.23 989.10V986.90Z"/><path d="M1170.69 979.55H1173.29L1177.44 983.90V986.10L1173.29 990.45H1170.69L1166.54 986.10V983.90Z"/><path d="M1176.00 987.25H1178.60L1182.75 991.60V993.80L1178.60 998.15H1176.00L1171.85 993.80V991.60Z"/><path d="M1181.31 1021.95H1183.91L1188.06 1026.30V1028.50L1183.91 1032.85H1181.31L1177.16 1028.50V1026.30Z"/><path d="M1186.62 1055.05H1189.22L1193.37 1059.40V1061.60L1189.22 1065.95H1186.62L1182.47 1061.60V1059.40Z"/><path d="M1191.93 1015.35H1194.53L1198.68 1019.70V1021.90L1194.53 1026.25H1191.93L1187.78 1021.90V1019.70Z"/><path d="M1197.24 994.95H1199.84L1203.99 999.30V1001.50L1199.84 1005.85H1197.24L1193.09 1001.50V999.30Z"/><path d="M1202.56 979.55H1205.15L1209.31 983.90V986.10L1205.15 990.45H1202.56L1198.40 986.10V983.90Z"/><path d="M1207.87 983.45H1210.47L1214.62 987.80V990.00L1210.47 994.35H1207.87L1203.72 990.00V987.80Z"/><path d="M1213.18 987.25H1215.78L1219.93 991.60V993.80L1215.78 998.15H1213.18L1209.03 993.80V991.60Z"/><path d="M1218.49 973.45H1221.09L1225.24 977.80V980.00L1221.09 984.35H1218.49L1214.34 980.00V977.80Z"/><path d="M1223.80 964.95H1226.40L1230.55 969.30V971.50L1226.40 975.85H1223.80L1219.65 971.50V969.30Z"/><path d="M1229.11 953.45H1231.71L1235.86 957.80V960.00L1231.71 964.35H1229.11L1224.96 960.00V957.80Z"/><path d="M1234.42 955.55H1237.02L1241.17 959.90V962.10L1237.02 966.45H1234.42L1230.27 962.10V959.90Z"/><path d="M1239.73 964.15H1242.33L1246.48 968.50V970.70L1242.33 975.05H1239.73L1235.58 970.70V968.50Z"/><path d="M1245.04 979.75H1247.64L1251.79 984.10V986.30L1247.64 990.65H1245.04L1240.89 986.30V984.10Z"/><path d="M1250.35 985.45H1252.95L1257.10 989.80V992.00L1252.95 996.35H1250.35L1246.20 992.00V989.80Z"/><path d="M1255.66 979.05H1258.26L1262.41 983.40V985.60L1258.26 989.95H1255.66L1251.51 985.60V983.40Z"/><path d="M1260.97 950.65H1263.57L1267.72 955.00V957.20L1263.57 961.55H1260.97L1256.82 957.20V955.00Z"/><path d="M1266.29 933.55H1268.88L1273.04 937.90V940.10L1268.88 944.45H1266.29L1262.13 940.10V937.90Z"/><path d="M1271.60 925.05H1274.20L1278.35 929.40V931.60L1274.20 935.95H1271.60L1267.45 931.60V929.40Z"/><path d="M1276.91 925.05H1279.51L1283.66 929.40V931.60L1279.51 935.95H1276.91L1272.76 931.60V929.40Z"/><path d="M1282.22 946.35H1284.82L1288.97 950.70V952.90L1284.82 957.25H1282.22L1278.07 952.90V950.70Z"/><path d="M1287.53 947.75H1290.13L1294.28 952.10V954.30L1290.13 958.65H1287.53L1283.38 954.30V952.10Z"/><path d="M1292.84 919.55H1295.44L1299.59 923.90V926.10L1295.44 930.45H1292.84L1288.69 926.10V923.90Z"/><path d="M1298.15 904.05H1300.75L1304.90 908.40V910.60L1300.75 914.95H1298.15L1294.00 910.60V908.40Z"/><path d="M1303.46 919.25H1306.06L1310.21 923.60V925.80L1306.06 930.15H1303.46L1299.31 925.80V923.60Z"/><path d="M1308.77 926.05H1311.37L1315.52 930.40V932.60L1311.37 936.95H1308.77L1304.62 932.60V930.40Z"/><path d="M1314.08 889.15H1316.68L1320.83 893.50V895.70L1316.68 900.05H1314.08L1309.93 895.70V893.50Z"/><path d="M1319.39 889.15H1321.99L1326.14 893.50V895.70L1321.99 900.05H1319.39L1315.24 895.70V893.50Z"/><path d="M1324.70 904.15H1327.30L1331.45 908.50V910.70L1327.30 915.05H1324.70L1320.55 910.70V908.50Z"/><path d="M1330.02 861.65H1332.62L1336.77 866.00V868.20L1332.62 872.55H1330.02L1325.87 868.20V866.00Z"/><path d="M1335.33 843.65H1337.93L1342.08 848.00V850.20L1337.93 854.55H1335.33L1331.18 850.20V848.00Z"/><path d="M1340.64 840.15H1343.24L1347.39 844.50V846.70L1343.24 851.05H1340.64L1336.49 846.70V844.50Z"/><path d="M1345.95 843.65H1348.55L1352.70 848.00V850.20L1348.55 854.55H1345.95L1341.80 850.20V848.00Z"/><path d="M1351.26 859.05H1353.86L1358.01 863.40V865.60L1353.86 869.95H1351.26L1347.11 865.60V863.40Z"/><path d="M1356.57 852.85H1359.17L1363.32 857.20V859.40L1359.17 863.75H1356.57L1352.42 859.40V857.20Z"/><path d="M1361.88 852.65H1364.48L1368.63 857.00V859.20L1364.48 863.55H1361.88L1357.73 859.20V857.00Z"/><path d="M1367.19 843.15H1369.79L1373.94 847.50V849.70L1369.79 854.05H1367.19L1363.04 849.70V847.50Z"/><path d="M1372.50 843.15H1375.10L1379.25 847.50V849.70L1375.10 854.05H1372.50L1368.35 849.70V847.50Z"/><path d="M1377.81 843.15H1380.41L1384.56 847.50V849.70L1380.41 854.05H1377.81L1373.66 849.70V847.50Z"/><path d="M1383.12 852.65H1385.72L1389.87 857.00V859.20L1385.72 863.55H1383.12L1378.97 859.20V857.00Z"/><path d="M1388.43 843.65H1391.03L1395.18 848.00V850.20L1391.03 854.55H1388.43L1384.28 850.20V848.00Z"/><path d="M1393.74 830.35H1396.34L1400.49 834.70V836.90L1396.34 841.25H1393.74L1389.59 836.90V834.70Z"/><path d="M1399.06 798.55H1401.66L1405.81 802.90V805.10L1401.66 809.45H1399.06L1394.91 805.10V802.90Z"/><path d="M1404.37 771.85H1406.97L1411.12 776.20V778.40L1406.97 782.75H1404.37L1400.22 778.40V776.20Z"/><path d="M1409.68 770.15H1412.28L1416.43 774.50V776.70L1412.28 781.05H1409.68L1405.53 776.70V774.50Z"/><path d="M1414.99 778.75H1417.59L1421.74 783.10V785.30L1417.59 789.65H1414.99L1410.84 785.30V783.10Z"/><path d="M1420.30 798.55H1422.90L1427.05 802.90V805.10L1422.90 809.45H1420.30L1416.15 805.10V802.90Z"/><path d="M1425.61 798.35H1428.21L1432.36 802.70V804.90L1428.21 809.25H1425.61L1421.46 804.90V802.70Z"/><path d="M1430.92 828.75H1433.52L1437.67 833.10V835.30L1433.52 839.65H1430.92L1426.77 835.30V833.10Z"/><path d="M1436.23 829.35H1438.83L1442.98 833.70V835.90L1438.83 840.25H1436.23L1432.08 835.90V833.70Z"/><path d="M1441.54 809.05H1444.14L1448.29 813.40V815.60L1444.14 819.95H1441.54L1437.39 815.60V813.40Z"/><path d="M1446.85 787.65H1449.45L1453.60 792.00V794.20L1449.45 798.55H1446.85L1442.70 794.20V792.00Z"/><path d="M1452.16 783.75H1454.76L1458.91 788.10V790.30L1454.76 794.65H1452.16L1448.01 790.30V788.10Z"/><path d="M1457.47 788.85H1460.07L1464.22 793.20V795.40L1460.07 799.75H1457.47L1453.32 795.40V793.20Z"/><path d="M1462.79 783.75H1465.39L1469.54 788.10V790.30L1465.39 794.65H1462.79L1458.64 790.30V788.10Z"/><path d="M1468.10 798.35H1470.70L1474.85 802.70V804.90L1470.70 809.25H1468.10L1463.95 804.90V802.70Z"/><path d="M1473.41 786.55H1476.01L1480.16 790.90V793.10L1476.01 797.45H1473.41L1469.26 793.10V790.90Z"/><path d="M1478.72 797.25H1481.32L1485.47 801.60V803.80L1481.32 808.15H1478.72L1474.57 803.80V801.60Z"/><path d="M1484.03 799.05H1486.63L1490.78 803.40V805.60L1486.63 809.95H1484.03L1479.88 805.60V803.40Z"/><path d="M1489.34 799.55H1491.94L1496.09 803.90V806.10L1491.94 810.45H1489.34L1485.19 806.10V803.90Z"/><path d="M1494.65 803.35H1497.25L1501.40 807.70V809.90L1497.25 814.25H1494.65L1490.50 809.90V807.70Z"/><path d="M1499.96 798.45H1502.56L1506.71 802.80V805.00L1502.56 809.35H1499.96L1495.81 805.00V802.80Z"/><path d="M1505.27 813.35H1507.87L1512.02 817.70V819.90L1507.87 824.25H1505.27L1501.12 819.90V817.70Z"/><path d="M1510.58 798.45H1513.18L1517.33 802.80V805.00L1513.18 809.35H1510.58L1506.43 805.00V802.80Z"/><path d="M1515.89 768.55H1518.49L1522.64 772.90V775.10L1518.49 779.45H1515.89L1511.74 775.10V772.90Z"/><path d="M1521.20 738.05H1523.80L1527.95 742.40V744.60L1523.80 748.95H1521.20L1517.05 744.60V742.40Z"/><path d="M1526.52 740.15H1529.12L1533.27 744.50V746.70L1529.12 751.05H1526.52L1522.37 746.70V744.50Z"/><path d="M1531.83 744.45H1534.43L1538.58 748.80V751.00L1534.43 755.35H1531.83L1527.68 751.00V748.80Z"/><path d="M1537.14 745.15H1539.74L1543.89 749.50V751.70L1539.74 756.05H1537.14L1532.99 751.70V749.50Z"/><path d="M1542.45 740.85H1545.05L1549.20 745.20V747.40L1545.05 751.75H1542.45L1538.30 747.40V745.20Z"/><path d="M1547.76 757.55H1550.36L1554.51 761.90V764.10L1550.36 768.45H1547.76L1543.61 764.10V761.90Z"/><path d="M1553.07 768.85H1555.67L1559.82 773.20V775.40L1555.67 779.75H1553.07L1548.92 775.40V773.20Z"/><path d="M1558.38 788.55H1560.98L1565.13 792.90V795.10L1560.98 799.45H1558.38L1554.23 795.10V792.90Z"/><path d="M1563.69 783.15H1566.29L1570.44 787.50V789.70L1566.29 794.05H1563.69L1559.54 789.70V787.50Z"/><path d="M1569.00 755.85H1571.60L1575.75 760.20V762.40L1571.60 766.75H1569.00L1564.85 762.40V760.20Z"/><path d="M1574.31 740.65H1576.91L1581.06 745.00V747.20L1576.91 751.55H1574.31L1570.16 747.20V745.00Z"/><path d="M1579.62 769.75H1582.22L1586.37 774.10V776.30L1582.22 780.65H1579.62L1575.47 776.30V774.10Z"/><path d="M1584.93 732.15H1587.53L1591.68 736.50V738.70L1587.53 743.05H1584.93L1580.78 738.70V736.50Z"/><path d="M1590.25 721.15H1592.85L1597.00 725.50V727.70L1592.85 732.05H1590.25L1586.10 727.70V725.50Z"/><path d="M1595.56 692.05H1598.16L1602.31 696.40V698.60L1598.16 702.95H1595.56L1591.41 698.60V696.40Z"/><path d="M1600.87 676.25H1603.47L1607.62 680.60V682.80L1603.47 687.15H1600.87L1596.72 682.80V680.60Z"/><path d="M1606.18 671.35H1608.78L1612.93 675.70V677.90L1608.78 682.25H1606.18L1602.03 677.90V675.70Z"/><path d="M1611.49 621.55H1614.09L1618.24 625.90V628.10L1614.09 632.45H1611.49L1607.34 628.10V625.90Z"/><path d="M1616.80 643.55H1619.40L1623.55 647.90V650.10L1619.40 654.45H1616.80L1612.65 650.10V647.90Z"/><path d="M1622.11 632.25H1624.71L1628.86 636.60V638.80L1624.71 643.15H1622.11L1617.96 638.80V636.60Z"/><path d="M1627.42 645.75H1630.02L1634.17 650.10V652.30L1630.02 656.65H1627.42L1623.27 652.30V650.10Z"/><path d="M1632.73 599.55H1635.33L1639.48 603.90V606.10L1635.33 610.45H1632.73L1628.58 606.10V603.90Z"/><path d="M1638.04 562.55H1640.64L1644.79 566.90V569.10L1640.64 573.45H1638.04L1633.89 569.10V566.90Z"/><path d="M1643.35 497.05H1645.95L1650.10 501.40V503.60L1645.95 507.95H1643.35L1639.20 503.60V501.40Z"/><path d="M1648.66 501.55H1651.26L1655.41 505.90V508.10L1651.26 512.45H1648.66L1644.51 508.10V505.90Z"/><path d="M1653.98 480.45H1656.58L1660.73 484.80V487.00L1656.58 491.35H1653.98L1649.83 487.00V484.80Z"/><path d="M1659.29 463.55H1661.89L1666.04 467.90V470.10L1661.89 474.45H1659.29L1655.14 470.10V467.90Z"/><path d="M1664.60 460.95H1667.20L1671.35 465.30V467.50L1667.20 471.85H1664.60L1660.45 467.50V465.30Z"/><path d="M1669.91 451.15H1672.51L1676.66 455.50V457.70L1672.51 462.05H1669.91L1665.76 457.70V455.50Z"/><path d="M1675.22 429.55H1677.82L1681.97 433.90V436.10L1677.82 440.45H1675.22L1671.07 436.10V433.90Z"/><path d="M1680.53 424.55H1683.13L1687.28 428.90V431.10L1683.13 435.45H1680.53L1676.38 431.10V428.90Z"/><path d="M1685.84 418.05H1688.44L1692.59 422.40V424.60L1688.44 428.95H1685.84L1681.69 424.60V422.40Z"/><path d="M1691.15 436.15H1693.75L1697.90 440.50V442.70L1693.75 447.05H1691.15L1687.00 442.70V440.50Z"/><path d="M1696.46 375.85H1699.06L1703.21 380.20V382.40L1699.06 386.75H1696.46L1692.31 382.40V380.20Z"/><path d="M1701.77 375.85H1704.37L1708.52 380.20V382.40L1704.37 386.75H1701.77L1697.62 382.40V380.20Z"/><path d="M1707.08 375.85H1709.68L1713.83 380.20V382.40L1709.68 386.75H1707.08L1702.93 382.40V380.20Z"/><path d="M1712.39 345.15H1714.99L1719.14 349.50V351.70L1714.99 356.05H1712.39L1708.24 351.70V349.50Z"/><path d="M1717.71 330.35H1720.31L1724.46 334.70V336.90L1720.31 341.25H1717.71L1713.56 336.90V334.70Z"/><path d="M1723.02 318.25H1725.62L1729.77 322.60V324.80L1725.62 329.15H1723.02L1718.87 324.80V322.60Z"/><path d="M1728.33 358.25H1730.93L1735.08 362.60V364.80L1730.93 369.15H1728.33L1724.18 364.80V362.60Z"/><path d="M1733.64 375.85H1736.24L1740.39 380.20V382.40L1736.24 386.75H1733.64L1729.49 382.40V380.20Z"/><path d="M1738.95 421.25H1741.55L1745.70 425.60V427.80L1741.55 432.15H1738.95L1734.80 427.80V425.60Z"/><path d="M1744.26 470.25H1746.86L1751.01 474.60V476.80L1746.86 481.15H1744.26L1740.11 476.80V474.60Z"/><path d="M1749.57 496.55H1752.17L1756.32 500.90V503.10L1752.17 507.45H1749.57L1745.42 503.10V500.90Z"/><path d="M1754.88 442.45H1757.48L1761.63 446.80V449.00L1757.48 453.35H1754.88L1750.73 449.00V446.80Z"/><path d="M1760.19 414.55H1762.79L1766.94 418.90V421.10L1762.79 425.45H1760.19L1756.04 421.10V418.90Z"/><path d="M1765.50 410.75H1768.10L1772.25 415.10V417.30L1768.10 421.65H1765.50L1761.35 417.30V415.10Z"/><path d="M1770.81 412.65H1773.41L1777.56 417.00V419.20L1773.41 423.55H1770.81L1766.66 419.20V417.00Z"/><path d="M1776.12 390.35H1778.72L1782.88 394.70V396.90L1778.72 401.25H1776.12L1771.97 396.90V394.70Z"/><path d="M1781.44 389.85H1784.04L1788.19 394.20V396.40L1784.04 400.75H1781.44L1777.29 396.40V394.20Z"/><path d="M1786.75 421.15H1789.35L1793.50 425.50V427.70L1789.35 432.05H1786.75L1782.60 427.70V425.50Z"/><path d="M1792.06 435.35H1794.66L1798.81 439.70V441.90L1794.66 446.25H1792.06L1787.91 441.90V439.70Z"/><path d="M1797.37 434.45H1799.97L1804.12 438.80V441.00L1799.97 445.35H1797.37L1793.22 441.00V438.80Z"/><path d="M1802.68 432.25H1805.28L1809.43 436.60V438.80L1805.28 443.15H1802.68L1798.53 438.80V436.60Z"/><path d="M1807.99 450.95H1810.59L1814.74 455.30V457.50L1810.59 461.85H1807.99L1803.84 457.50V455.30Z"/><path d="M1813.30 469.45H1815.90L1820.05 473.80V476.00L1815.90 480.35H1813.30L1809.15 476.00V473.80Z"/><path d="M1818.61 481.05H1821.21L1825.36 485.40V487.60L1821.21 491.95H1818.61L1814.46 487.60V485.40Z"/><path d="M1823.92 505.85H1826.52L1830.67 510.20V512.40L1826.52 516.75H1823.92L1819.77 512.40V510.20Z"/><path d="M1829.23 457.95H1831.83L1835.98 462.30V464.50L1831.83 468.85H1829.23L1825.08 464.50V462.30Z"/><path d="M1834.54 390.35H1837.14L1841.29 394.70V396.90L1837.14 401.25H1834.54L1830.39 396.90V394.70Z"/><path d="M1839.86 356.25H1842.45L1846.61 360.60V362.80L1842.45 367.15H1839.86L1835.70 362.80V360.60Z"/><path d="M1845.17 375.95H1847.77L1851.92 380.30V382.50L1847.77 386.85H1845.17L1841.02 382.50V380.30Z"/><path d="M1850.48 408.85H1853.08L1857.23 413.20V415.40L1853.08 419.75H1850.48L1846.33 415.40V413.20Z"/><path d="M1855.79 436.55H1858.39L1862.54 440.90V443.10L1858.39 447.45H1855.79L1851.64 443.10V440.90Z"/><path d="M1861.10 405.95H1863.70L1867.85 410.30V412.50L1863.70 416.85H1861.10L1856.95 412.50V410.30Z"/><path d="M1866.41 406.45H1869.01L1873.16 410.80V413.00L1869.01 417.35H1866.41L1862.26 413.00V410.80Z"/><path d="M1871.72 439.55H1874.32L1878.47 443.90V446.10L1874.32 450.45H1871.72L1867.57 446.10V443.90Z"/><path d="M1877.03 458.75H1879.63L1883.78 463.10V465.30L1879.63 469.65H1877.03L1872.88 465.30V463.10Z"/><path d="M1882.34 526.85H1884.94L1889.09 531.20V533.40L1884.94 537.75H1882.34L1878.19 533.40V531.20Z"/><path d="M1887.65 476.75H1890.25L1894.40 481.10V483.30L1890.25 487.65H1887.65L1883.50 483.30V481.10Z"/><path d="M1892.96 443.55H1895.56L1899.71 447.90V450.10L1895.56 454.45H1892.96L1888.81 450.10V447.90Z"/><path d="M1898.27 390.55H1900.87L1905.02 394.90V397.10L1900.87 401.45H1898.27L1894.12 397.10V394.90Z"/><path d="M1903.59 375.35H1906.18L1910.34 379.70V381.90L1906.18 386.25H1903.59L1899.43 381.90V379.70Z"/><path d="M1908.90 421.55H1911.50L1915.65 425.90V428.10L1911.50 432.45H1908.90L1904.75 428.10V425.90Z"/><path d="M1914.21 406.35H1916.81L1920.96 410.70V412.90L1916.81 417.25H1914.21L1910.06 412.90V410.70Z"/><path d="M1919.52 453.65H1922.12L1926.27 458.00V460.20L1922.12 464.55H1919.52L1915.37 460.20V458.00Z"/><path d="M1924.83 466.55H1927.43L1931.58 470.90V473.10L1927.43 477.45H1924.83L1920.68 473.10V470.90Z"/>
</g>
<rect x="454.6" y="579.6" width="175.7" height="101.8" fill="#fff" stroke="#d4d4d4" stroke-width="3"/>
<g class="sans" font-size="18.6" fill="#ff0000"><text x="474.6" y="610.4" textLength="122.8" lengthAdjust="spacingAndGlyphs">3-month high</text><text x="475.4" y="637.2" textLength="124.0" lengthAdjust="spacingAndGlyphs">was $333,000</text><text x="475.2" y="664.3" textLength="104.0" lengthAdjust="spacingAndGlyphs">in Feb 2006</text></g>
<rect x="682.2" y="571.5" width="187.8" height="109.9" fill="#fff" stroke="#d4d4d4" stroke-width="3"/>
<g class="sans" font-size="20" fill="#3b6fb6"><text x="702.8" y="601.9" textLength="133.6" lengthAdjust="spacingAndGlyphs">12-month high</text><text x="703.4" y="628.5" textLength="135.0" lengthAdjust="spacingAndGlyphs">was $322,7000</text><text x="703.0" y="654.7" textLength="109.8" lengthAdjust="spacingAndGlyphs">in May 2006</text></g>
<rect x="1466.4" y="311.4" width="179.1" height="156.3" fill="#fff" stroke="#d4d4d4" stroke-width="2.6"/>
<g class="sans" font-size="30" font-weight="bold" fill="#ff0000"><text x="1485.4" y="352.8" textLength="119.5" lengthAdjust="spacingAndGlyphs">3-month</text><text x="1485.6" y="393.9" textLength="133.5" lengthAdjust="spacingAndGlyphs">for Nov is</text><text x="1485.4" y="433.9" textLength="128.8" lengthAdjust="spacingAndGlyphs">$420,000</text></g>
<rect x="1766.4" y="561.4" width="191.9" height="154.7" fill="#fff" stroke="#d4d4d4" stroke-width="2.6"/>
<g class="sans" font-size="30.5" font-weight="bold" fill="#4f86cf"><text x="1786.8" y="602.3" textLength="136.2" lengthAdjust="spacingAndGlyphs">12-month</text><text x="1786.8" y="643.3" textLength="132.0" lengthAdjust="spacingAndGlyphs">for Nov is</text><text x="1786.3" y="683.8" textLength="128.4" lengthAdjust="spacingAndGlyphs">$425,000</text></g>
<rect x="1055.1" y="1195.1" width="716.1" height="106.9" fill="#fff" stroke="#000" stroke-width="3"/>
<g class="sans" font-size="27.5" fill="#000"><text x="1073.6" y="1233.6" textLength="657" lengthAdjust="spacingAndGlyphs">The <tspan fill="#ff0000">red (dashed) line</tspan> is the 3-month moving average</text><text x="1073.6" y="1270.5" textLength="574.5" lengthAdjust="spacingAndGlyphs">The <tspan fill="#0070c0">blue (dotted) line</tspan> is the 12-month moving</text></g>
</svg>
</body></html>
